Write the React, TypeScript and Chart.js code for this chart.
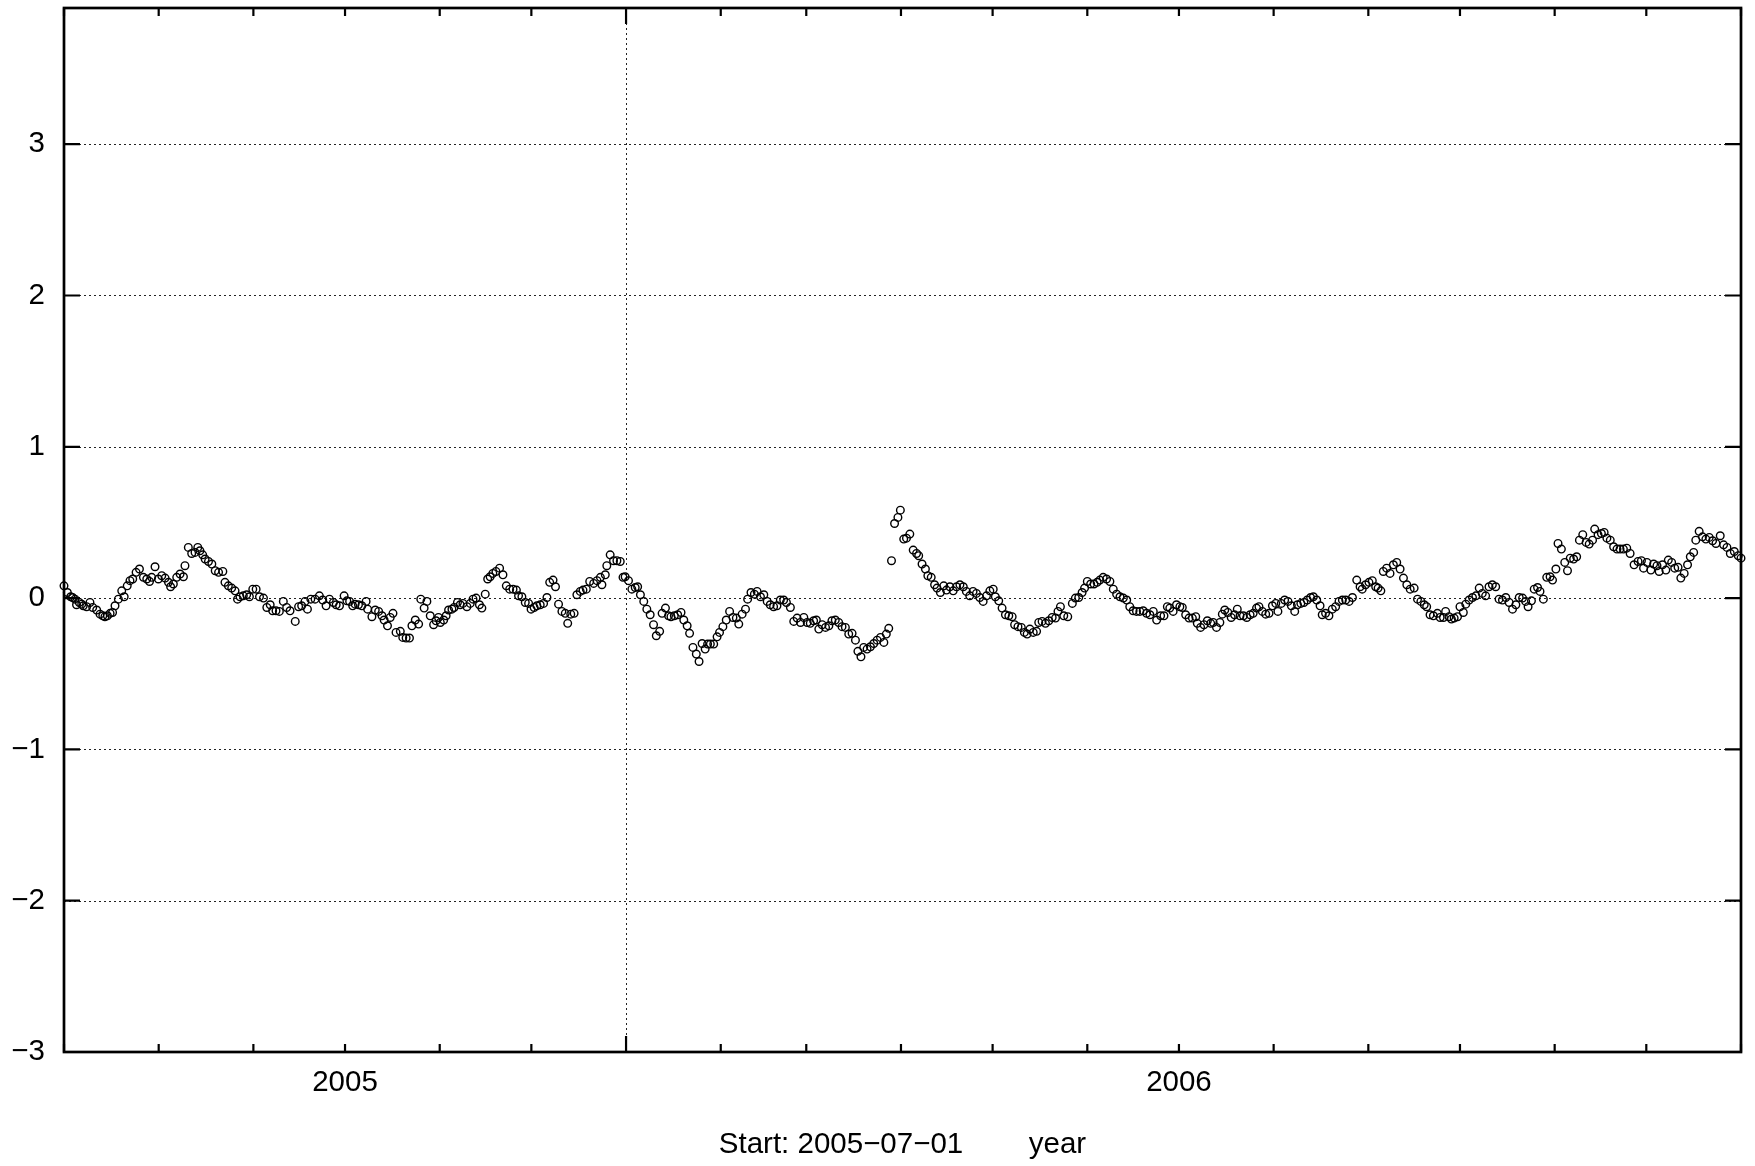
import React, { useEffect, useRef } from 'react';
import { Chart, registerables } from 'chart.js';

Chart.register(...registerables);

// ---- axis definitions (days since 2005-07-01) ----
const startLabel = 'Start: 2005\u221207\u221201';
const unitLabel = 'year';
const monthTickDays = [0, 31, 62, 92, 123, 153, 184, 215, 243, 274, 304, 335, 365, 396, 427, 457, 488, 518, 549];
const yearBoundaryDays = [184];
const yearLabelDays = [92, 365];
const yearLabelTexts = ['2005', '2006'];
const xMinDay = 0;
const xMaxDay = 549;
const yTickValues = [-3, -2, -1, 0, 1, 2, 3];
const yMin = -3;
const yMax = 3.9;

// ---- observations: [day since start, value] ----
const obsJulSep2005: [number, number][] = [
  [0, 0.081], [1.1, 0.037], [2.2, 0.009], [2.8, 0.004], [3.6, -0.007], [4.1, -0.044], [5.0, -0.029], [5.8, -0.040], [6.3, -0.051], [7.4, -0.057],
  [8.5, -0.029], [9.4, -0.062], [10.7, -0.079], [11.8, -0.106], [12.7, -0.117], [13.4, -0.123], [14.2, -0.117], [15.1, -0.101], [15.9, -0.095], [16.7, -0.051],
  [17.8, -0.007], [18.9, 0.048], [19.7, 0.009], [20.7, 0.081], [21.6, 0.115], [22.5, 0.126], [23.6, 0.170], [24.7, 0.192], [26.0, 0.137], [27.1, 0.126],
  [28.0, 0.110], [28.7, 0.137], [29.8, 0.207], [30.9, 0.126], [32.0, 0.148], [33.1, 0.132], [34.2, 0.104], [34.9, 0.075], [35.8, 0.093], [36.9, 0.137],
  [38.0, 0.159], [39.1, 0.141], [39.6, 0.214], [40.7, 0.335], [41.8, 0.295], [42.9, 0.302], [43.8, 0.335], [44.5, 0.313], [45.4, 0.286], [46.2, 0.258],
  [47.3, 0.242], [48.4, 0.225], [49.5, 0.181], [50.6, 0.170], [52.0, 0.176], [52.7, 0.104], [53.8, 0.081], [54.9, 0.066], [56.0, 0.048], [56.8, -0.007],
  [57.6, 0.009], [58.7, 0.015], [59.8, 0.022], [60.7, 0.009], [61.8, 0.059], [62.9, 0.059], [64.0, 0.009], [65.3, 0], [66.4, -0.062], [67.5, -0.044],
  [68.3, -0.084], [69.4, -0.084], [70.5, -0.088], [71.8, -0.022], [72.9, -0.062], [74.0, -0.084], [75.7, -0.154], [76.8, -0.057], [77.8, -0.051], [78.9, -0.022],
  [79.7, -0.073], [80.8, -0.007], [82.2, -0.007], [83.6, 0.015], [84.7, -0.013], [85.8, -0.051], [86.9, -0.007],
];

const obsSepDec2005: [number, number][] = [
  [88.2, -0.029], [89.1, -0.044], [90.2, -0.051], [91.7, 0.015], [92.6, -0.018], [93.5, -0.022], [94.5, -0.051], [95.3, -0.040], [96.4, -0.044], [97.5, -0.051],
  [98.9, -0.022], [99.4, -0.073], [100.8, -0.123], [101.9, -0.079], [103.0, -0.088], [104.1, -0.117], [104.8, -0.145], [105.9, -0.183], [106.8, -0.128], [107.7, -0.101],
  [108.7, -0.227], [110.1, -0.220], [110.9, -0.260], [112.0, -0.264], [113.1, -0.264], [113.9, -0.183], [115.0, -0.145], [116.1, -0.172], [116.8, -0.007], [117.9, -0.066],
  [118.8, -0.022], [119.9, -0.117], [121.0, -0.176], [121.8, -0.150], [122.6, -0.128], [123.2, -0.161], [124.3, -0.145], [125.1, -0.117], [125.9, -0.079], [127.0, -0.073],
  [127.7, -0.062], [128.8, -0.029], [129.7, -0.044], [130.6, -0.035], [131.9, -0.057], [133.0, -0.035], [133.9, -0.007], [134.9, 0], [136.0, -0.044], [136.8, -0.066],
  [137.9, 0.026], [138.7, 0.126], [139.5, 0.141], [140.4, 0.163], [141.4, 0.176], [142.6, 0.198], [143.7, 0.154], [144.8, 0.081], [145.9, 0.059], [147.0, 0.059],
  [148.1, 0.053], [148.8, 0.015], [149.9, 0.009], [151.0, -0.029], [152.1, -0.035], [152.9, -0.073], [153.9, -0.062], [154.8, -0.051], [155.9, -0.044], [157.0, -0.035],
  [158.1, 0.004], [159.0, 0.104], [160.1, 0.119], [160.9, 0.075], [161.9, -0.040], [163.0, -0.088], [164.1, -0.101], [164.9, -0.167], [165.9, -0.106], [167.0, -0.101],
  [167.9, 0.022], [169.0, 0.044], [169.9, 0.053], [171.0, 0.059], [172.1, 0.110], [173.4, 0.097], [174.5, 0.115], [175.6, 0.137], [176.1, 0.088], [177.2, 0.154],
];

const obsDec2005Mar2006: [number, number][] = [
  [177.7, 0.214], [178.8, 0.286], [179.9, 0.247], [181.0, 0.247], [182.1, 0.242], [183.0, 0.137], [183.7, 0.141], [184.8, 0.115], [185.9, 0.059], [187.0, 0.070],
  [187.8, 0.075], [188.7, 0.022], [189.8, -0.022], [190.8, -0.073], [191.9, -0.110], [193.0, -0.176], [193.9, -0.249], [195.0, -0.220], [195.8, -0.101], [196.9, -0.066],
  [197.9, -0.117], [198.7, -0.123], [199.8, -0.117], [200.9, -0.110], [202.0, -0.095], [202.9, -0.145], [204.0, -0.183], [204.8, -0.233], [205.9, -0.326], [207.0, -0.370],
  [207.9, -0.419], [208.9, -0.300], [209.9, -0.337], [210.7, -0.304], [211.6, -0.304], [212.7, -0.304], [213.8, -0.256], [214.6, -0.227], [215.7, -0.189], [216.8, -0.145],
  [217.9, -0.088], [219.0, -0.128], [220.1, -0.132], [220.9, -0.172], [222.0, -0.106], [223.1, -0.073], [223.8, -0.007], [224.9, 0.037], [226.0, 0.026], [226.9, 0.044],
  [228.0, 0.009], [229.1, 0.022], [230.2, -0.022], [231.2, -0.044], [232.3, -0.057], [233.4, -0.051], [234.5, -0.013], [235.6, -0.013], [236.5, -0.029], [237.8, -0.062],
  [238.9, -0.154], [240.0, -0.132], [241.1, -0.161], [242.2, -0.128], [243.3, -0.161], [244.3, -0.167], [245.4, -0.150], [246.3, -0.145], [247.1, -0.205], [248.2, -0.176],
  [249.3, -0.194], [250.4, -0.183], [251.4, -0.150], [252.5, -0.145], [253.6, -0.161], [254.7, -0.189], [255.8, -0.194], [256.9, -0.238], [258.0, -0.233], [259.1, -0.278],
  [259.9, -0.352], [260.9, -0.388], [261.8, -0.326], [262.9, -0.337], [264.0, -0.322], [265.1, -0.300], [266.2, -0.278], [267.3, -0.260], [268.4, -0.293], [269.2, -0.238],
  [270.0, -0.200],
];

const obsMarJun2006: [number, number][] = [
  [270.9, 0.247], [271.9, 0.493], [273.0, 0.533], [273.8, 0.581], [274.9, 0.390], [275.8, 0.396], [276.9, 0.423], [278.0, 0.317], [279.1, 0.295], [279.8, 0.280],
  [280.9, 0.225], [282.0, 0.192], [282.8, 0.148], [283.9, 0.137], [285.0, 0.088], [285.8, 0.066], [286.9, 0.037], [288.0, 0.081], [288.9, 0.053], [290.0, 0.075],
  [291.1, 0.048], [292.2, 0.075], [293.3, 0.088], [294.4, 0.075], [295.4, 0.044], [296.5, 0.015], [297.6, 0.044], [298.7, 0.031], [299.8, 0.004], [300.9, -0.022],
  [302.0, 0.015], [303.1, 0.048], [304.2, 0.059], [304.9, 0.009], [306.0, -0.018], [307.1, -0.066], [308.2, -0.110], [309.3, -0.117], [310.4, -0.123], [311.2, -0.176],
  [312.3, -0.189], [313.4, -0.194], [314.4, -0.227], [315.3, -0.238], [316.2, -0.205], [317.3, -0.227], [318.4, -0.220], [319.1, -0.161], [320.2, -0.154], [321.3, -0.167],
  [322.4, -0.150], [323.5, -0.128], [324.6, -0.132], [325.4, -0.088], [326.2, -0.057], [327.3, -0.117], [328.6, -0.123], [330.1, -0.035], [331.1, 0], [332.2, 0.004],
  [333.3, 0.037], [334.1, 0.066], [335.0, 0.110], [336.1, 0.093], [337.2, 0.093], [338.2, 0.104], [339.1, 0.119], [340.2, 0.137], [341.3, 0.126], [342.4, 0.110],
  [343.5, 0.059], [344.6, 0.026], [345.7, 0.009], [346.8, 0], [347.9, -0.013], [348.9, -0.057], [350.0, -0.084], [351.1, -0.088], [352.2, -0.088], [353.3, -0.084],
  [354.4, -0.101], [355.5, -0.110], [356.6, -0.088], [357.7, -0.145], [359.0, -0.117], [360.1, -0.117], [361.2, -0.057], [362.0, -0.066],
];

const obsJunSep2006: [number, number][] = [
  [363.1, -0.088], [364.2, -0.044], [365.3, -0.057], [366.1, -0.062], [367.2, -0.110], [368.3, -0.132], [369.4, -0.132], [370.5, -0.123], [371.0, -0.167], [372.1, -0.194],
  [373.2, -0.176], [374.3, -0.150], [375.4, -0.167], [376.2, -0.161], [377.3, -0.194], [378.4, -0.161], [379.2, -0.106], [380.0, -0.079], [381.0, -0.095], [382.1, -0.128],
  [383.2, -0.110], [384.1, -0.073], [385.0, -0.117], [386.1, -0.117], [387.2, -0.128], [388.3, -0.110], [389.3, -0.101], [390.4, -0.066], [391.2, -0.057], [392.3, -0.088],
  [393.4, -0.106], [394.5, -0.101], [395.6, -0.051], [396.7, -0.035], [397.4, -0.088], [398.5, -0.035], [399.6, -0.013], [400.7, -0.022], [401.8, -0.051], [402.9, -0.088],
  [403.8, -0.044], [404.9, -0.035], [405.9, -0.029], [407.0, -0.013], [408.1, 0.004], [409.0, 0.009], [410.1, -0.013], [411.2, -0.051], [411.9, -0.110], [413.0, -0.101],
  [414.1, -0.117], [415.2, -0.073], [416.3, -0.057], [417.4, -0.022], [418.5, -0.013], [419.6, -0.013], [420.7, -0.022], [421.8, 0.004], [423.2, 0.119], [424.3, 0.075],
  [425.0, 0.059], [426.1, 0.088], [427.2, 0.104], [428.3, 0.115], [429.4, 0.075], [430.2, 0.066], [431.1, 0.048], [431.9, 0.176], [433.0, 0.198], [434.1, 0.163],
  [435.2, 0.220], [436.3, 0.236], [437.4, 0.192], [438.5, 0.132], [439.6, 0.088], [440.7, 0.059], [442.0, 0.066], [443.1, -0.007], [444.2, -0.022], [445.3, -0.044],
  [446.1, -0.057], [447.2, -0.110], [448.3, -0.117], [449.6, -0.101], [450.5, -0.128],
];

const obsSepDec2006: [number, number][] = [
  [451.6, -0.128], [452.3, -0.088], [453.4, -0.123], [454.2, -0.139], [455.1, -0.132], [456.2, -0.123], [457.0, -0.057], [458.1, -0.095], [458.9, -0.040], [460.0, -0.013],
  [461.1, 0.004], [462.2, 0.015], [463.3, 0.066], [464.3, 0.031], [465.4, 0.015], [466.5, 0.075], [467.6, 0.088], [468.7, 0.075], [469.8, -0.007], [470.9, -0.013],
  [472.0, 0.004], [473.1, -0.029], [474.2, -0.073], [475.3, -0.044], [476.4, 0.004], [477.5, 0], [478.5, -0.022], [479.3, -0.057], [480.4, -0.018], [481.3, 0.059],
  [482.4, 0.070], [483.2, 0.044], [484.3, -0.007], [485.4, 0.137], [486.5, 0.141], [487.3, 0.119], [488.4, 0.192], [489.1, 0.361], [490.2, 0.324], [491.3, 0.236],
  [492.2, 0.181], [493.1, 0.264], [494.2, 0.258], [495.2, 0.273], [496.1, 0.383], [497.2, 0.419], [498.3, 0.368], [499.3, 0.357], [500.4, 0.383], [501.1, 0.456],
  [502.2, 0.419], [503.3, 0.427], [504.2, 0.434], [505.1, 0.396], [506.2, 0.383], [507.3, 0.339], [508.4, 0.324], [509.4, 0.324], [510.5, 0.324], [511.6, 0.330],
  [512.7, 0.295], [514.0, 0.220], [515.3, 0.242], [516.4, 0.247], [517.1, 0.198], [518.2, 0.236], [519.5, 0.185], [520.4, 0.225], [521.5, 0.214], [522.2, 0.176],
  [523.3, 0.220], [524.4, 0.185], [525.2, 0.251], [526.3, 0.236], [527.3, 0.198], [528.4, 0.203], [529.3, 0.132], [530.4, 0.163], [531.5, 0.220], [532.4, 0.273],
  [533.5, 0.302], [534.2, 0.383], [535.3, 0.441], [536.4, 0.405], [537.5, 0.390], [538.6, 0.401], [539.7, 0.379], [540.8, 0.361], [542.2, 0.412], [543.3, 0.352],
  [544.4, 0.335], [545.5, 0.295], [546.8, 0.308], [548.1, 0.280], [549.0, 0.264],
];

const observationSets = [obsJulSep2005, obsSepDec2005, obsDec2005Mar2006, obsMarJun2006, obsJunSep2006, obsSepDec2006];

const FONT = '"Liberation Sans", Arial, Helvetica, sans-serif';
const FONT_SIZE = 29.5;

const framePlugin = {
  id: 'gnuFrame',
  beforeDatasetsDraw(chart: any) {
    const { ctx, chartArea: a, scales } = chart;
    const x = scales.x;
    const y = scales.y;
    ctx.save();
    ctx.strokeStyle = '#222';
    ctx.lineWidth = 1;
    ctx.setLineDash([2, 3]);
    for (const v of yTickValues) {
      if (v <= yMin || v >= yMax) continue;
      const py = Math.round(y.getPixelForValue(v)) + 0.5;
      ctx.beginPath();
      ctx.moveTo(a.left, py);
      ctx.lineTo(a.right, py);
      ctx.stroke();
    }
    for (const d of yearBoundaryDays) {
      const px = Math.round(x.getPixelForValue(d)) + 0.5;
      ctx.beginPath();
      ctx.moveTo(px, a.top);
      ctx.lineTo(px, a.bottom);
      ctx.stroke();
    }
    ctx.restore();
  },
  afterDatasetsDraw(chart: any) {
    const { ctx, chartArea: a, scales } = chart;
    const x = scales.x;
    const y = scales.y;
    ctx.save();
    ctx.setLineDash([]);
    ctx.strokeStyle = '#000';
    ctx.lineWidth = 2.2;
    const yTickLen = 16;
    const xTickLen = 8;
    for (const v of yTickValues) {
      const py = y.getPixelForValue(v);
      ctx.beginPath();
      ctx.moveTo(a.left, py);
      ctx.lineTo(a.left + yTickLen, py);
      ctx.moveTo(a.right, py);
      ctx.lineTo(a.right - yTickLen, py);
      ctx.stroke();
    }
    for (const d of monthTickDays) {
      const px = x.getPixelForValue(d);
      const len = yearBoundaryDays.includes(d) ? yTickLen : xTickLen;
      ctx.beginPath();
      ctx.moveTo(px, a.bottom);
      ctx.lineTo(px, a.bottom - len);
      ctx.moveTo(px, a.top);
      ctx.lineTo(px, a.top + len);
      ctx.stroke();
    }
    ctx.lineWidth = 2.7;
    ctx.strokeRect(a.left, a.top, a.right - a.left, a.bottom - a.top);
    ctx.restore();
  },
};

export default function App() {
  const ref = useRef<HTMLCanvasElement>(null);
  useEffect(() => {
    document.body.style.margin = '0';
    const points = observationSets.flat().map(([d, v]) => ({ x: d, y: v }));
    const chart = new Chart(ref.current as HTMLCanvasElement, {
      type: 'scatter',
      data: {
        datasets: [
          {
            data: points,
            pointRadius: 3.8,
            pointBorderWidth: 1.4,
            pointBorderColor: '#000',
            pointBackgroundColor: 'rgba(0,0,0,0)',
            showLine: false,
            clip: false as any,
          },
        ],
      },
      options: {
        animation: false,
        responsive: false,
        devicePixelRatio: 1,
        events: [],
        layout: { padding: { left: 0, right: 14, top: 8, bottom: 0 } },
        plugins: { legend: { display: false }, tooltip: { enabled: false } },
        scales: {
          x: {
            type: 'linear',
            min: xMinDay,
            max: xMaxDay,
            afterBuildTicks: (s: any) => {
              s.ticks = monthTickDays.map((v) => ({ value: v }));
            },
            afterFit: (s: any) => {
              s.height = 114;
              s.paddingLeft = 0;
              s.paddingRight = 0;
            },
            grid: { display: false, drawTicks: false },
            border: { display: false },
            ticks: {
              autoSkip: false,
              maxRotation: 0,
              padding: 13,
              color: '#000',
              font: { family: FONT, size: FONT_SIZE },
              callback: (v: any) => {
                const i = yearLabelDays.indexOf(Number(v));
                return i >= 0 ? yearLabelTexts[i] : '';
              },
            },
            title: {
              display: true,
              text: startLabel + '        ' + unitLabel,
              color: '#000',
              font: { family: FONT, size: FONT_SIZE },
              padding: { top: 4, bottom: 3 },
            },
          },
          y: {
            type: 'linear',
            min: yMin,
            max: yMax,
            afterBuildTicks: (s: any) => {
              s.ticks = yTickValues.map((v) => ({ value: v }));
            },
            afterFit: (s: any) => {
              s.width = 64;
              s.paddingTop = 0;
              s.paddingBottom = 0;
            },
            grid: { display: false, drawTicks: false },
            border: { display: false },
            ticks: {
              padding: 19,
              color: '#000',
              font: { family: FONT, size: FONT_SIZE },
              callback: (v: any) => (Number(v) < 0 ? '\u2212' + Math.abs(Number(v)) : String(v)),
            },
          },
        },
      },
      plugins: [framePlugin],
    });
    return () => chart.destroy();
  }, []);
  return (
    <div style={{ width: 1755, height: 1166, background: '#fff' }}>
      <canvas ref={ref} width={1755} height={1166} style={{ display: 'block' }} />
    </div>
  );
}
